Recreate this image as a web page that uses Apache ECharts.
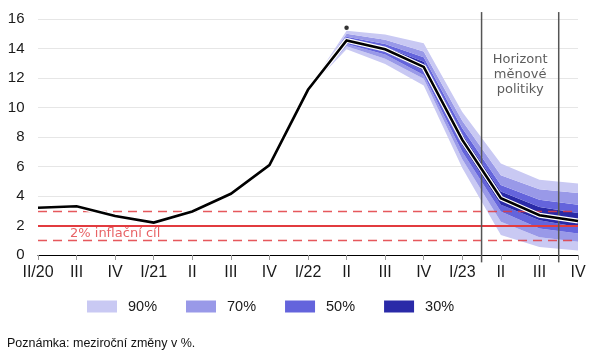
<!DOCTYPE html>
<html>
<head>
<meta charset="utf-8">
<script src="https://cdn.jsdelivr.net/npm/echarts@6/dist/echarts.min.js"></script>
<style>html,body{margin:0;padding:0;background:#fff}#c{width:596px;height:363px}</style>
</head>
<body>
<div id="c"></div>
<script>
// ---- data ----
const categories = ['II/20','III','IV','I/21','II','III','IV','I/22','II','III','IV','I/23','II','III','IV'];
const cpi = [3.2, 3.3, 2.65, 2.2, 2.95, 4.15, 6.1, 11.2, 14.55, 13.95, 12.75, 7.8, 3.85, 2.7, 2.3];
const fanStart = 7; // index of I/22
const upper90 = [11.2, 15.2, 14.95, 14.35, 9.7, 6.2, 5.1, 4.85];
const upper70 = [11.2, 15.0, 14.6, 13.8, 9.1, 5.4, 4.45, 4.2];
const upper50 = [11.2, 14.8, 14.3, 13.4, 8.6, 4.75, 3.75, 3.4];
const upper30 = [11.2, 14.7, 14.1, 13.1, 8.2, 4.3, 3.25, 2.85];
const lower30 = [11.2, 14.45, 13.8, 12.5, 7.4, 3.4, 2.35, 1.9];
const lower50 = [11.2, 14.3, 13.6, 12.2, 7.0, 2.95, 1.8, 1.45];
const lower70 = [11.2, 14.15, 13.3, 11.95, 6.5, 2.25, 1.2, 0.9];
const lower90 = [11.2, 13.95, 12.95, 11.5, 5.9, 1.35, 0.55, 0.3];
const extraPoint = [8, 15.4];           // dot above II/22
const targetValue = 2;
const toleranceBand = [1, 3];
const targetLabel = '2% inflační cíl';
const targetLabelPos = [2, 1.45];
const horizonBounds = [11.5, 13.5];
const horizonLabel = 'Horizont\nměnové\npolitiky';
const horizonLabelPos = [12.5, 12.25];
const legendNames = ['90%', '70%', '50%', '30%'];
const note = 'Poznámka: meziroční změny v %.';
const yTicks = {min: 0, max: 16, interval: 2};

// ---- styles ----
const colors = {'90%': '#c9c9f3', '70%': '#9999e8', '50%': '#6464dc', '30%': '#2a2aa8'};
const red = '#e23b3f';

const layers = [
  {name: 'base', lo: null, hi: lower90},
  {name: '90%', lo: lower90, hi: lower70},
  {name: '70%', lo: lower70, hi: lower50},
  {name: '50%', lo: lower50, hi: lower30},
  {name: '30%', lo: lower30, hi: upper30},
  {name: '50%', lo: upper30, hi: upper50},
  {name: '70%', lo: upper50, hi: upper70},
  {name: '90%', lo: upper70, hi: upper90}
];
const series = [];
layers.forEach((L) => {
  const d = categories.map((c, i) => {
    if (i < fanStart) return null;
    const j = i - fanStart;
    return L.lo ? +(L.hi[j] - L.lo[j]).toFixed(4) : L.hi[j];
  });
  const s = {
    type: 'line', name: L.name, stack: 'fan', data: d, symbol: 'none',
    xAxisIndex: 0, yAxisIndex: 0, silent: true, z: 2,
    lineStyle: {width: 0, opacity: 0}
  };
  if (L.lo) {
    s.color = colors[L.name];
    s.itemStyle = {color: colors[L.name]};
    s.areaStyle = {color: colors[L.name], opacity: 1};
  } else {
    s.markLine = {
      silent: true, symbol: 'none', label: {show: false}, z: 5,
      data: [
        {yAxis: toleranceBand[1], lineStyle: {color: red, type: [9, 6], width: 1.3, opacity: 0.85}},
        {yAxis: targetValue, lineStyle: {color: red, type: 'solid', width: 2}},
        {yAxis: toleranceBand[0], lineStyle: {color: red, type: [9, 6], width: 1.3, opacity: 0.85}}
      ]
    };
  }
  series.push(s);
});
// vertical horizon lines
horizonBounds.forEach(x => {
  series.push({
    type: 'line', xAxisIndex: 1, yAxisIndex: 0, clip: false, silent: true, symbol: 'none', z: 6,
    data: [[x, yTicks.min - 0.5], [x, yTicks.max + 0.47]],
    lineStyle: {color: '#555', width: 1.5}
  });
});
// halo + main line
series.push({type: 'line', data: cpi, symbol: 'none', z: 9, silent: true,
  lineStyle: {color: '#fff', width: 5}});
series.push({type: 'line', data: cpi, symbol: 'none', z: 10, silent: true,
  lineStyle: {color: '#000', width: 2.6, join: 'miter'}});
// extra dot
series.push({type: 'scatter', xAxisIndex: 1, data: [extraPoint], symbolSize: 4.5, z: 11,
  itemStyle: {color: '#000'}, silent: true});
// text labels
series.push({type: 'scatter', xAxisIndex: 1, z: 12, silent: true, symbolSize: 1,
  itemStyle: {color: 'rgba(0,0,0,0)'},
  data: [
    {value: targetLabelPos, label: {show: true, position: 'inside', formatter: targetLabel,
      color: red, fontSize: 13, fontFamily: 'DejaVu Sans'}},
    {value: horizonLabelPos, label: {show: true, position: 'inside', formatter: horizonLabel,
      color: '#333', fontSize: 13, lineHeight: 15, fontFamily: 'DejaVu Sans', align: 'center'}}
  ]
});

const chart = echarts.init(document.getElementById('c'), null, {renderer: 'canvas'});
chart.setOption({
  animation: false,
  grid: {left: 38, right: 18, top: 19, bottom: 108, containLabel: false},
  legend: {
    data: legendNames, left: 87, top: 299, icon: 'rect', itemWidth: 30, itemHeight: 12,
    itemGap: 29, padding: 0, selectedMode: false,
    textStyle: {fontSize: 14.5, color: '#1a1a1a', fontFamily: 'Liberation Sans', padding: [0, 0, 0, 6]}
  },
  graphic: [{type: 'text', left: 7, top: 337, style: {text: note, fontSize: 12.5,
    fontFamily: 'Liberation Sans', fill: '#111'}}],
  xAxis: [
    {type: 'category', data: categories, boundaryGap: false,
      axisLine: {lineStyle: {color: '#000', width: 1.2}},
      axisTick: {show: true, length: 5, lineStyle: {color: '#999'}},
      axisLabel: {fontSize: 16, color: '#1a1a1a', margin: 10, fontFamily: 'Liberation Sans', interval: 0},
      splitLine: {show: false}},
    {type: 'value', min: 0, max: categories.length - 1, show: false}
  ],
  yAxis: {
    type: 'value', min: yTicks.min, max: yTicks.max, interval: yTicks.interval,
    axisLine: {show: false}, axisTick: {show: false},
    axisLabel: {fontSize: 15, color: '#1a1a1a', margin: 13.5, fontFamily: 'Liberation Sans'},
    splitLine: {lineStyle: {color: '#e6e6e6', width: 1}}
  },
  series: series
});
</script>
</body>
</html>
